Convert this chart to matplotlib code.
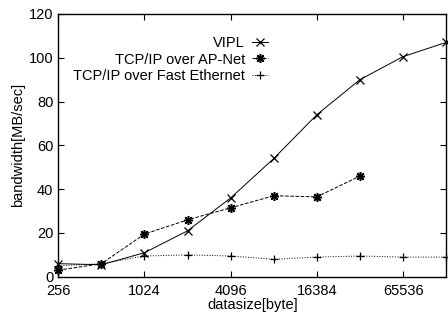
import matplotlib
matplotlib.use('Agg')
import matplotlib.pyplot as plt

plt.rcParams['font.family'] = ['Liberation Sans', 'DejaVu Sans']

sizes = [256, 512, 1024, 2048, 4096, 8192, 16384, 32768, 65536, 131072]
vipl = [6, 5.5, 11, 21, 36, 54, 74, 90, 100.5, 107]
apnet_sizes = [256, 512, 1024, 2048, 4096, 8192, 16384, 32768]
apnet = [3, 6, 19.5, 26, 31.5, 37, 36.5, 46]
fe = [5, 6, 9.5, 10, 9.5, 8, 9, 9.5, 9, 9]

xticks = [256, 1024, 4096, 16384, 65536]

fig = plt.figure(figsize=(4.48, 3.23), dpi=100)
ax = fig.add_axes([0.13, 0.143, 0.866, 0.814])

ax.plot(sizes, vipl, color='black', linestyle='-', linewidth=0.7,
        marker='x', markersize=5.5, markeredgewidth=0.9, label='VIPL', clip_on=False)
ax.plot(apnet_sizes, apnet, color='black', linestyle='--', linewidth=0.7,
        marker=(8, 2, 0), markersize=6.5, markeredgewidth=1.1,
        label='TCP/IP over AP-Net', clip_on=False)
ax.plot(sizes, fe, color='black', linestyle=':', linewidth=0.7,
        marker='+', markersize=5.5, markeredgewidth=0.9,
        label='TCP/IP over Fast Ethernet', clip_on=False)

ax.set_xscale('log', base=2)
ax.set_xlim(256, 131072)
ax.set_ylim(0, 120)
ax.set_xticks(xticks)
ax.set_xticklabels([str(t) for t in xticks])
ax.minorticks_off()
ax.set_yticks(range(0, 121, 20))
ax.tick_params(direction='in', labelsize=10.5, length=4, top=True, right=True)
ax.tick_params(axis='x', pad=5)
for s in ax.spines.values():
    s.set_linewidth(1.0)

ax.set_xlabel('datasize[byte]', fontsize=10.5, labelpad=0)
ax.set_ylabel('bandwidth[MB/sec]', fontsize=10.5, labelpad=3)

ax.legend(loc='upper right', bbox_to_anchor=(0.56, 0.945), frameon=False,
          markerfirst=False, fontsize=10.5, handlelength=1.1,
          labelspacing=0.2, borderpad=0, handletextpad=0.5)
leg = ax.get_legend()
leg._legend_box.align = 'right'

fig.savefig('out.png', dpi=100)
